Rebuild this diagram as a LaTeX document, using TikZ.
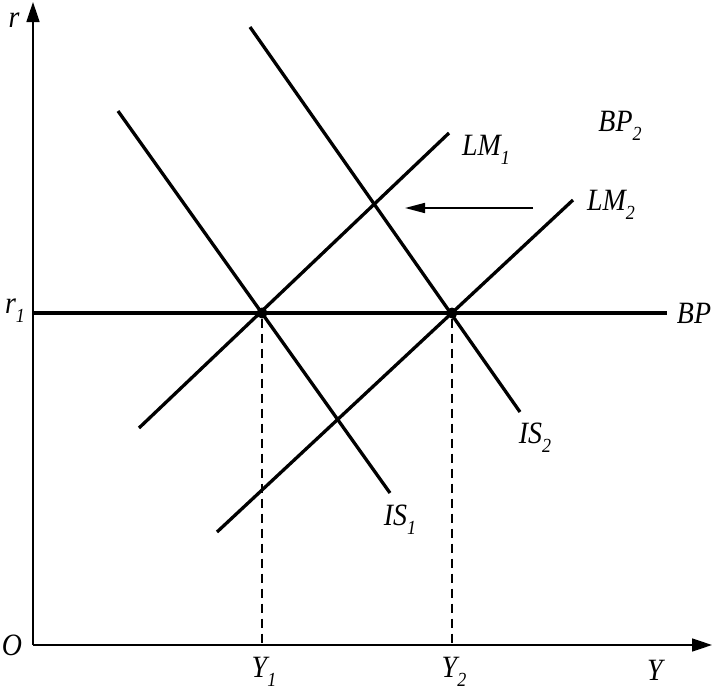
\documentclass[tikz,border=0pt]{standalone}
\usepackage{fontspec}
\setmainfont[FakeStretch=0.9]{Liberation Serif}
\usetikzlibrary{arrows.meta}
\newcommand{\lab}[2]{\itshape #1\raisebox{-0.28em}{\fontsize{20}{20}\selectfont\itshape #2}}
\begin{document}
\begin{tikzpicture}[x=1pt,y=-1pt,
  curve/.style={line width=3.3pt},
  axis/.style={line width=1.6pt,-{Triangle[length=20pt,width=13pt]}},
  guide/.style={line width=1.2pt,dash pattern=on 9pt off 6pt},
  lbl/.style={font=\fontsize{31}{31}\selectfont\itshape,inner sep=0pt},
  dot/.style={circle,fill=black,inner sep=0pt,minimum size=11pt}]
\useasboundingbox (0,0) rectangle (716,696);
% axes
\coordinate (O) at (33,645);
\coordinate (ytop) at (33,2);
\coordinate (xend) at (712,645);
\draw[axis] (O) -- (ytop);
\draw[axis] (O) -- (xend);
% intersections
\node[dot] (E1) at (262,313) {};
\node[dot] (E2) at (452,313) {};
\coordinate (F1) at (262,645);
\coordinate (F2) at (452,645);
\draw[guide] (E1) -- (F1);
\draw[guide] (E2) -- (F2);
% BP
\coordinate (bpl) at (33,313);
\coordinate (bpr) at (667,313);
\draw[curve] (bpl) -- (bpr);
% IS curves
\coordinate (is1a) at (118,111); \coordinate (is1b) at (390,493);
\coordinate (is2a) at (250,27);  \coordinate (is2b) at (520,412);
\draw[curve] (is1a) -- (is1b);
\draw[curve] (is2a) -- (is2b);
% LM curves
\coordinate (lm1a) at (139,428); \coordinate (lm1b) at (449,133);
\coordinate (lm2a) at (217,532); \coordinate (lm2b) at (573,200);
\draw[curve] (lm1a) -- (lm1b);
\draw[curve] (lm2a) -- (lm2b);
% shift arrow
\coordinate (sa) at (533,208);
\coordinate (sb) at (405,208);
\draw[line width=1.6pt,-{Triangle[length=20pt,width=10pt]}] (sa) -- (sb);
% labels
\node[lbl] (r) at (14,20) {r};
\node[lbl] (r1) at (15,311) {\lab{r}{1}};
\node[lbl] (Olab) at (12,645) {O};
\node[lbl] (Ylab) at (655,670) {Y};
\node[lbl] (Y1) at (264,672) {\lab{Y}{1}};
\node[lbl] (Y2) at (454,672) {\lab{Y}{2}};
\node[lbl] (BP) at (694,313) {BP};
\node[lbl] (BP2) at (620,126) {\lab{BP}{2}};
\node[lbl] (LM1) at (486,150) {\lab{LM}{1}};
\node[lbl] (LM2) at (611,205) {\lab{LM}{2}};
\node[lbl] (IS2) at (535,438) {\lab{IS}{2}};
\node[lbl] (IS1) at (400,520) {\lab{IS}{1}};
\end{tikzpicture}
\end{document}
